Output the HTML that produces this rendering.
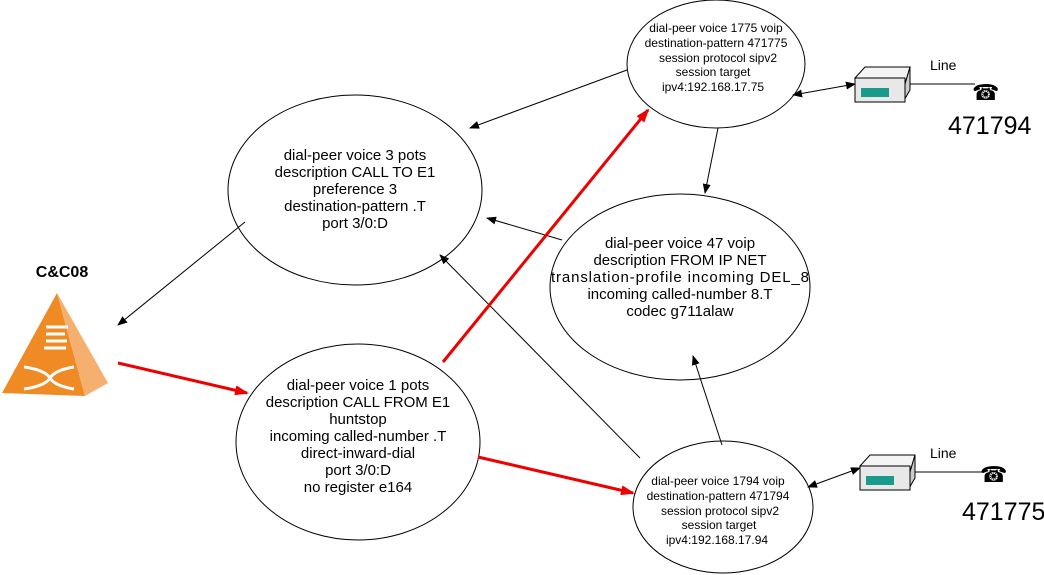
<!DOCTYPE html>
<html><head><meta charset="utf-8"><style>
html,body{margin:0;padding:0;background:#fff;width:1044px;height:575px;overflow:hidden}
svg{display:block}
text{font-family:"Liberation Sans",Arial,sans-serif;fill:#000}
</style></head><body>
<svg width="1044" height="575" viewBox="0 0 1044 575" xmlns="http://www.w3.org/2000/svg">
<defs>
<marker id="ab" markerWidth="10" markerHeight="8" refX="9" refY="4" orient="auto" markerUnits="userSpaceOnUse"><path d="M0,0 L10,4 L0,8 Z" fill="#000"/></marker>
<marker id="abs" markerWidth="10" markerHeight="8" refX="1" refY="4" orient="auto" markerUnits="userSpaceOnUse"><path d="M10,0 L0,4 L10,8 Z" fill="#000"/></marker>
<marker id="ar" markerWidth="14" markerHeight="10" refX="12" refY="5" orient="auto" markerUnits="userSpaceOnUse"><path d="M0,0 L14,5 L0,10 Z" fill="#e00"/></marker>
</defs>
<g fill="none" stroke="#000" stroke-width="1">
<ellipse cx="716" cy="64" rx="89" ry="64"/>
<ellipse cx="355" cy="190" rx="127" ry="95"/>
<ellipse cx="680" cy="287" rx="130" ry="93"/>
<ellipse cx="358" cy="442" rx="122" ry="98"/>
<ellipse cx="723" cy="507" rx="90" ry="66"/>
<line x1="627" y1="70" x2="470" y2="128" marker-end="url(#ab)"/>
<line x1="718" y1="128" x2="705" y2="193" marker-end="url(#ab)"/>
<line x1="562" y1="240" x2="487" y2="218" marker-end="url(#ab)"/>
<line x1="245" y1="222" x2="118" y2="325" marker-end="url(#ab)"/>
<line x1="640" y1="458" x2="440" y2="255" marker-end="url(#ab)"/>
<line x1="722" y1="445" x2="693" y2="356" marker-end="url(#ab)"/>
<line x1="793" y1="95" x2="855" y2="84" marker-start="url(#abs)" marker-end="url(#ab)"/>
<line x1="808" y1="487" x2="860" y2="468" marker-start="url(#abs)" marker-end="url(#ab)"/>
<line x1="905" y1="84" x2="975" y2="84"/>
<line x1="905" y1="472" x2="985" y2="472"/>
</g>
<g stroke="#e00" stroke-width="3" fill="none">
<line x1="118" y1="363" x2="247" y2="393" marker-end="url(#ar)"/>
<line x1="443" y1="362" x2="648" y2="110" marker-end="url(#ar)"/>
<line x1="478" y1="457" x2="633" y2="493" marker-end="url(#ar)"/>
</g>
<text x="62" y="277" font-size="16" font-weight="bold" text-anchor="middle">C&amp;C08</text>
<polygon points="57,293 2,393 85,396" fill="#f08a24"/>
<polygon points="57,293 85,396 108,383" fill="#f5b070"/>
<g stroke="#fff" stroke-width="3" fill="none">
<line x1="46" y1="327" x2="68" y2="327"/>
<line x1="46" y1="334" x2="65" y2="334"/>
<line x1="46" y1="341" x2="67" y2="341"/>
<line x1="44" y1="348" x2="66" y2="348"/>
<path d="M24,367 Q45,370 50,378 Q55,386 74,389 M24,389 Q45,386 50,378 Q55,370 74,367"/>
</g>
<g>
<polygon points="855,78 865,67 910,67 905,84" fill="#f4f4f4" stroke="#000"/>
<polygon points="905,84 910,67 910,90 903,102" fill="#ccc" stroke="#000"/>
<rect x="855" y="78" width="50" height="24" fill="#e8e8e8" stroke="#000"/>
<rect x="861" y="88" width="28" height="9" fill="#1a9a8a"/>
<polygon points="860,466 870,455 915,455 910,472" fill="#f4f4f4" stroke="#000"/>
<polygon points="910,472 915,455 915,478 908,490" fill="#ccc" stroke="#000"/>
<rect x="860" y="466" width="50" height="24" fill="#e8e8e8" stroke="#000"/>
<rect x="866" y="476" width="28" height="9" fill="#1a9a8a"/>
</g>
<text x="972" y="100" font-size="22">☎</text>
<text x="980" y="482" font-size="22">☎</text>
<text x="930" y="70" font-size="14">Line</text>
<text x="930" y="458" font-size="14">Line</text>
<text x="948" y="134" font-size="25">471794</text>
<text x="962" y="520" font-size="25">471775</text>
<g font-size="12" text-anchor="middle">
<text x="716" y="32">dial-peer voice 1775 voip</text>
<text x="716" y="47">destination-pattern 471775</text>
<text x="718" y="62">session protocol sipv2</text>
<text x="713" y="76">session target</text>
<text x="713" y="91">ipv4:192.168.17.75</text>
<text x="718" y="485">dial-peer voice 1794 voip</text>
<text x="718" y="500">destination-pattern 471794</text>
<text x="720" y="515">session protocol sipv2</text>
<text x="719" y="529">session target</text>
<text x="717" y="544">ipv4:192.168.17.94</text>
</g>
<g font-size="15" text-anchor="middle">
<text x="355" y="160">dial-peer voice 3 pots</text>
<text x="355" y="177">description CALL TO E1</text>
<text x="355" y="194">preference 3</text>
<text x="355" y="211">destination-pattern .T</text>
<text x="355" y="228">port 3/0:D</text>
<text x="680" y="248">dial-peer voice 47 voip</text>
<text x="680" y="265">description FROM IP NET</text>
<text x="680" y="282" textLength="258">translation-profile incoming DEL_8</text>
<text x="680" y="299">incoming called-number 8.T</text>
<text x="680" y="316">codec g711alaw</text>
<text x="358" y="390">dial-peer voice 1 pots</text>
<text x="358" y="407">description CALL FROM E1</text>
<text x="358" y="424">huntstop</text>
<text x="358" y="441">incoming called-number .T</text>
<text x="358" y="458">direct-inward-dial</text>
<text x="358" y="475">port 3/0:D</text>
<text x="358" y="492">no register e164</text>
</g>
</svg>
</body></html>
